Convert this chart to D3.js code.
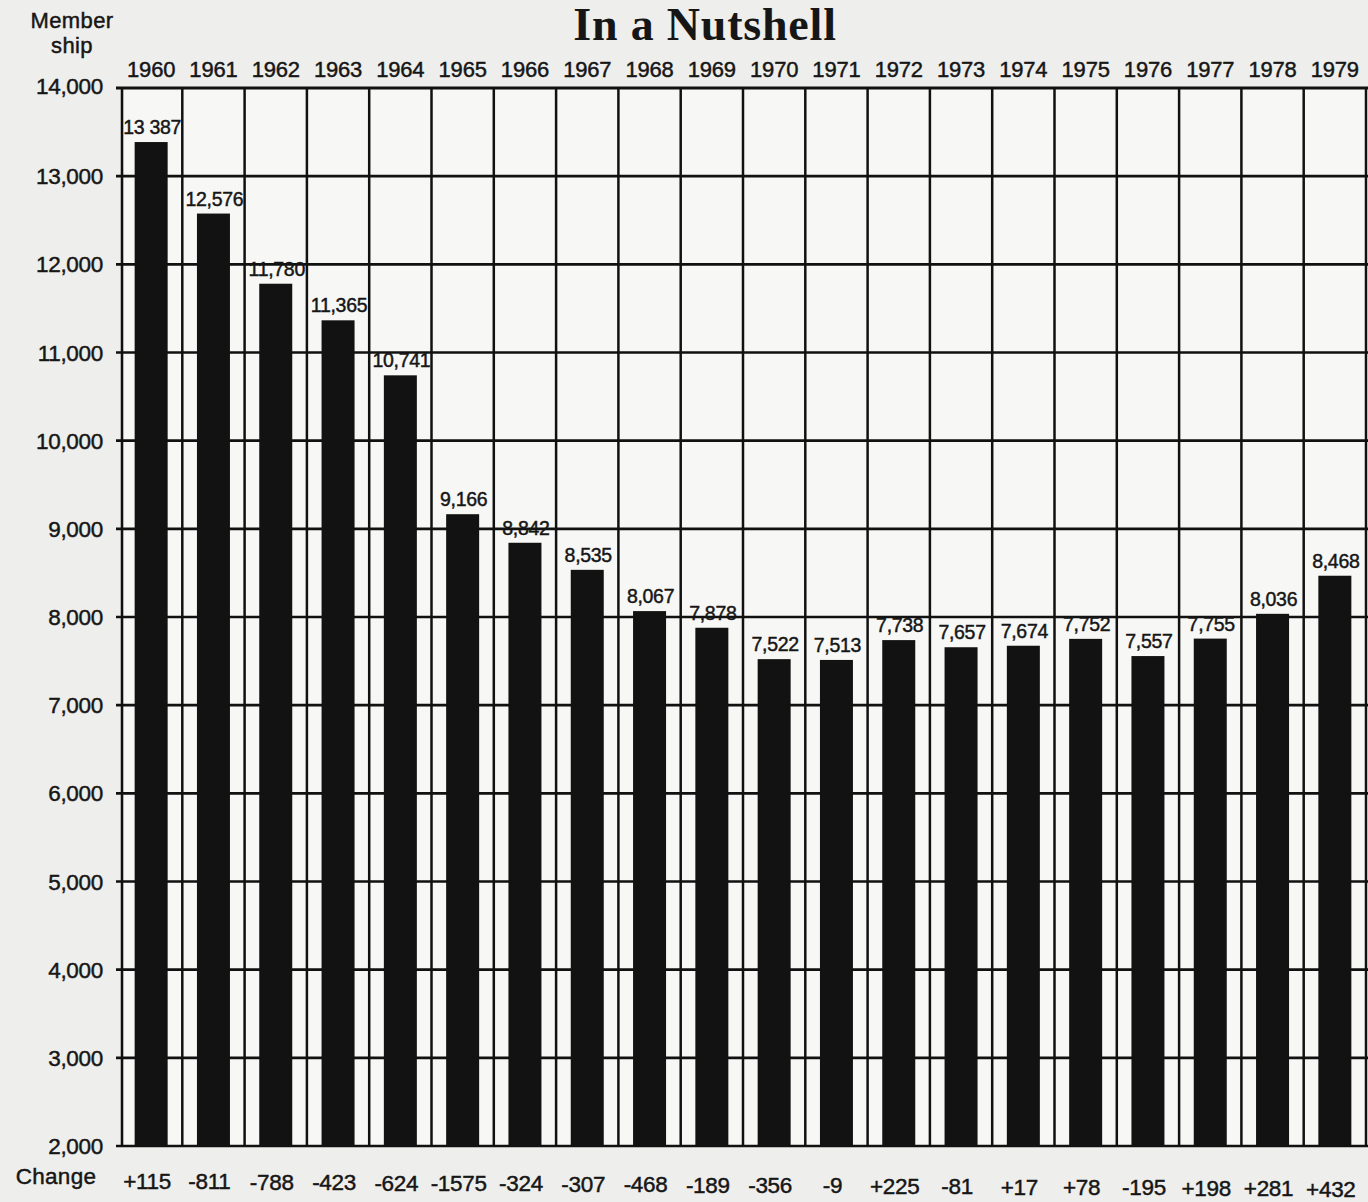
<!DOCTYPE html>
<html>
<head>
<meta charset="utf-8">
<script src="https://cdn.jsdelivr.net/npm/d3@7"></script>
<style>
  body { margin: 0; background: #eeeeec; }
  svg { display: block; }
  .sans { font-family: "Liberation Sans", Arial, Helvetica, sans-serif; fill: #161616; stroke: #161616; stroke-width: 0.45; }
</style>
</head>
<body>
<svg id="chart" width="1368" height="1202"></svg>
<script>
// Data
const years = [1960, 1961, 1962, 1963, 1964, 1965, 1966, 1967, 1968, 1969,
               1970, 1971, 1972, 1973, 1974, 1975, 1976, 1977, 1978, 1979];
const membership = [13387, 12576, 11780, 11365, 10741, 9166, 8842, 8535, 8067, 7878,
                    7522, 7513, 7738, 7657, 7674, 7752, 7557, 7755, 8036, 8468];
const valueLabels = ['13 387', '12,576', '11,780', '11,365', '10,741', '9,166', '8,842', '8,535', '8,067', '7,878',
                     '7,522', '7,513', '7,738', '7,657', '7,674', '7,752', '7,557', '7,755', '8,036', '8,468'];
const changes = ['+115', '-811', '-788', '-423', '-624', '-1575', '-324', '-307', '-468', '-189',
                 '-356', '-9', '+225', '-81', '+17', '+78', '-195', '+198', '+281', '+432'];
const yTicks = [2000, 3000, 4000, 5000, 6000, 7000, 8000, 9000, 10000, 11000, 12000, 13000, 14000];

const data = years.map((y, i) => ({ year: y, value: membership[i], label: valueLabels[i], change: changes[i] }));

const svg = d3.select('#chart');
const plotLeft = 120, plotRight = 1366, plotTop = 88, plotBottom = 1146;

const x = d3.scaleBand()
    .domain(years)
    .range([plotLeft, plotRight]);

const y = d3.scaleLinear()
    .domain([2000, 14000])
    .range([plotBottom, plotTop]);

const barW = 33;

// plot background
svg.append('rect')
    .attr('x', plotLeft).attr('y', plotTop)
    .attr('width', 1368 - plotLeft).attr('height', plotBottom - plotTop)
    .attr('fill', '#f7f7f5');

// horizontal grid lines (one per 1,000)
svg.append('g')
    .selectAll('line')
    .data(yTicks)
    .enter().append('line')
    .attr('x1', plotLeft - 4)
    .attr('x2', 1368)
    .attr('y1', d => y(d))
    .attr('y2', d => y(d))
    .attr('stroke', '#111')
    .attr('stroke-width', d => d === 14000 ? 3 : 2.6);

// vertical column lines
svg.append('g')
    .selectAll('line')
    .data(years)
    .enter().append('line')
    .attr('x1', d => x(d) + x.step())
    .attr('x2', d => x(d) + x.step())
    .attr('y1', plotTop)
    .attr('y2', plotBottom)
    .attr('stroke', '#111')
    .attr('stroke-width', 2.5);

// left axis line
svg.append('line')
    .attr('x1', plotLeft + 2).attr('x2', plotLeft + 2)
    .attr('y1', plotTop).attr('y2', plotBottom)
    .attr('stroke', '#111').attr('stroke-width', 2.6);

// bars
svg.selectAll('.bar')
    .data(data)
    .enter().append('rect')
    .attr('class', 'bar')
    .attr('x', d => x(d.year) + x.bandwidth() / 2 - barW / 2)
    .attr('width', barW)
    .attr('y', d => y(d.value))
    .attr('height', d => plotBottom - y(d.value))
    .attr('fill', '#121212');

// value labels above bars
svg.selectAll('.vlabel')
    .data(data)
    .enter().append('text')
    .attr('class', 'sans vlabel')
    .attr('x', d => x(d.year) + x.bandwidth() / 2 + 1)
    .attr('y', d => y(d.value) - 8)
    .attr('text-anchor', 'middle')
    .attr('font-size', 19.5)
    .attr('letter-spacing', -0.3)
    .text(d => d.label);

// year labels across the top
svg.selectAll('.year')
    .data(data)
    .enter().append('text')
    .attr('class', 'sans year')
    .attr('x', d => x(d.year) + x.bandwidth() / 2)
    .attr('y', 77)
    .attr('text-anchor', 'middle')
    .attr('font-size', 22)
    .attr('letter-spacing', -0.2)
    .text(d => d.year);

// y tick labels
svg.selectAll('.ytick')
    .data(yTicks)
    .enter().append('text')
    .attr('class', 'sans ytick')
    .attr('x', 103)
    .attr('y', d => y(d) + (d === 14000 ? 6 : 8))
    .attr('text-anchor', 'end')
    .attr('font-size', 22.5)
    .attr('letter-spacing', -0.3)
    .text(d => d3.format(',')(d));

// change labels along the bottom
svg.selectAll('.change')
    .data(data)
    .enter().append('text')
    .attr('class', 'sans change')
    .attr('x', d => x(d.year) + x.bandwidth() / 2 - 4)
    .attr('y', (d, i) => 1189 + i * 0.4)
    .attr('text-anchor', 'middle')
    .attr('font-size', 22.5)
    .attr('letter-spacing', -0.3)
    .text(d => d.change);

svg.append('text')
    .attr('class', 'sans')
    .attr('x', 56).attr('y', 1184)
    .attr('text-anchor', 'middle')
    .attr('font-size', 22.5)
    .attr('letter-spacing', 0.3)
    .text('Change');

// axis caption
svg.append('text')
    .attr('class', 'sans')
    .attr('x', 72).attr('y', 28)
    .attr('text-anchor', 'middle')
    .attr('font-size', 22)
    .attr('letter-spacing', 0.4)
    .text('Member');
svg.append('text')
    .attr('class', 'sans')
    .attr('x', 72).attr('y', 53)
    .attr('text-anchor', 'middle')
    .attr('font-size', 22)
    .attr('letter-spacing', 0.4)
    .text('ship');

// title
svg.append('text')
    .attr('x', 705).attr('y', 40)
    .attr('text-anchor', 'middle')
    .attr('font-family', '"Liberation Serif", "Times New Roman", serif')
    .attr('font-weight', 'bold')
    .attr('font-size', 46)
    .attr('letter-spacing', 0.8)
    .attr('fill', '#161616')
    .text('In a Nutshell');
</script>
</body>
</html>
